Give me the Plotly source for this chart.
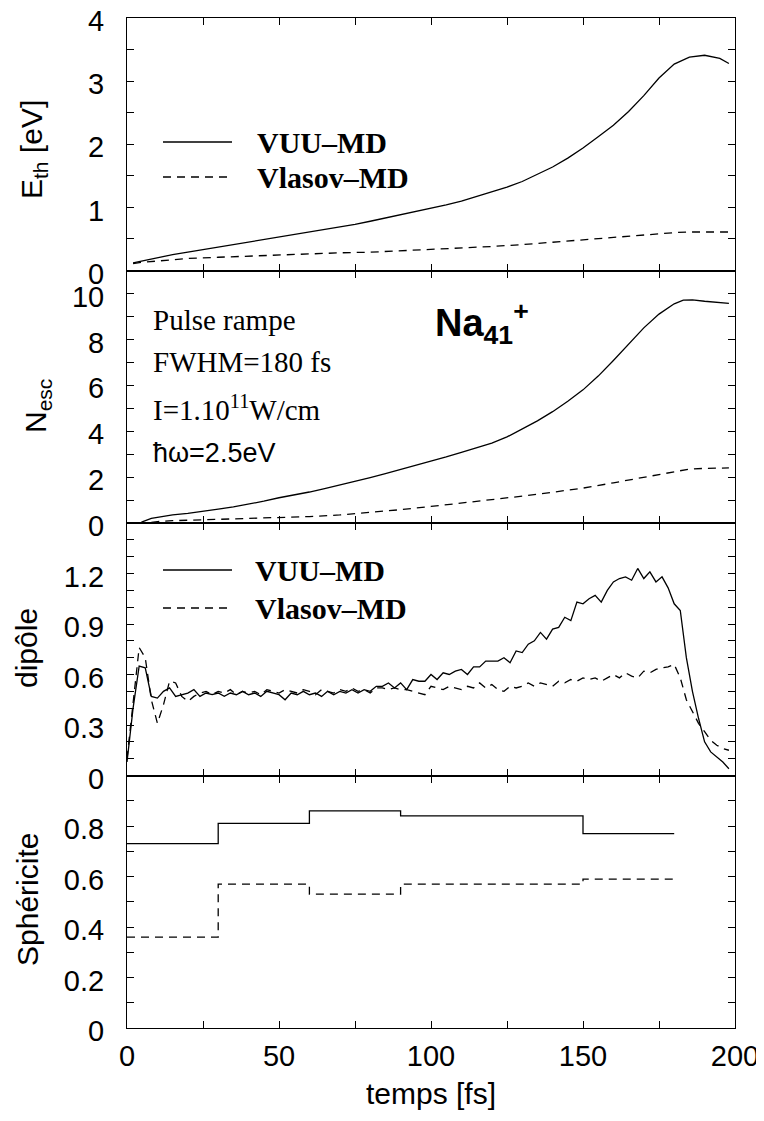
import plotly.graph_objects as go
from plotly.subplots import make_subplots

# ---------------- data ----------------
# Panel 1: thermal energy E_th [eV]
t_eth_vuu = [2, 5, 10, 15, 20, 25, 30, 35, 40, 45, 50, 55, 60, 65, 70, 75, 80, 85, 90, 95,
             100, 105, 110, 115, 120, 125, 130, 135, 140, 145, 150, 155, 160, 165, 170, 175,
             180, 185, 190, 195, 198]
eth_vuu = [0.12, 0.15, 0.21, 0.25, 0.29, 0.33, 0.36, 0.40, 0.44, 0.48, 0.52, 0.56, 0.60, 0.64,
           0.68, 0.73, 0.78, 0.83, 0.88, 0.93, 0.98, 1.04, 1.10, 1.17, 1.24, 1.32, 1.41, 1.52,
           1.64, 1.78, 1.94, 2.12, 2.30, 2.52, 2.77, 3.05, 3.27, 3.38, 3.41, 3.36, 3.28]
t_eth_vla = [2, 5, 10, 20, 30, 40, 50, 60, 70, 80, 90, 100, 110, 120, 130, 140, 150, 160,
             170, 180, 185, 190, 198]
eth_vla = [0.11, 0.13, 0.15, 0.19, 0.21, 0.23, 0.25, 0.27, 0.28, 0.29, 0.31, 0.33, 0.35,
           0.38, 0.41, 0.45, 0.49, 0.53, 0.56, 0.60, 0.61, 0.61, 0.61]

# Panel 2: number of escaped electrons
t_nesc_vuu = [4.4, 5, 8, 10, 15, 20, 25, 30, 35, 40, 45, 50, 55, 60, 65, 70, 75, 80, 85, 90,
              95, 100, 105, 110, 115, 120, 125, 130, 135, 140, 145, 150, 155, 160, 165, 170,
              175, 180, 183, 186, 190, 195, 198]
nesc_vuu = [0.0, 0.05, 0.2, 0.25, 0.35, 0.42, 0.5, 0.6, 0.7, 0.82, 0.95, 1.1, 1.22, 1.35, 1.5,
            1.65, 1.8, 1.98, 2.15, 2.33, 2.5, 2.68, 2.88, 3.08, 3.27, 3.48, 3.75, 4.1, 4.45,
            4.85, 5.3, 5.8, 6.4, 7.08, 7.8, 8.5, 9.1, 9.55, 9.71, 9.72, 9.66, 9.6, 9.57]
t_nesc_vla = [8, 10, 15, 20, 25, 30, 40, 50, 60, 70, 80, 90, 100, 110, 120, 130, 140, 150,
              160, 170, 180, 185, 190, 198]
nesc_vla = [0.03, 0.06, 0.1, 0.12, 0.14, 0.16, 0.19, 0.22, 0.28, 0.35, 0.45, 0.58, 0.72, 0.86,
            1.0, 1.17, 1.34, 1.52, 1.75, 2.0, 2.25, 2.35, 2.38, 2.4]

# Panel 3: dipole, sampled every 2 fs from 0 to 198
t_dip = list(range(0, 200, 2))
dip_vuu = [0.08, 0.40, 0.65, 0.64, 0.47, 0.46, 0.50, 0.52, 0.47, 0.48,
           0.49, 0.51, 0.47, 0.49, 0.48, 0.49, 0.47, 0.49, 0.48, 0.50,
           0.48, 0.49, 0.47, 0.50, 0.49, 0.48, 0.45, 0.49, 0.48, 0.50,
           0.48, 0.49, 0.47, 0.50, 0.48, 0.50, 0.49, 0.51, 0.49, 0.51,
           0.50, 0.53, 0.53, 0.55, 0.52, 0.55, 0.51, 0.57, 0.56, 0.56,
           0.60, 0.57, 0.61, 0.60, 0.62, 0.63, 0.60, 0.645, 0.645, 0.68,
           0.68, 0.68, 0.70, 0.67, 0.74, 0.73, 0.78, 0.80, 0.85, 0.81,
           0.87, 0.88, 0.94, 0.92, 1.03, 1.02, 1.05, 1.07, 1.03, 1.10,
           1.15, 1.17, 1.18, 1.16, 1.23, 1.17, 1.21, 1.15, 1.18, 1.115,
           1.02, 0.98, 0.70, 0.50, 0.34, 0.20, 0.14, 0.11, 0.08, 0.04]
dip_vla = [0.10, 0.45, 0.76, 0.70, 0.45, 0.31, 0.42, 0.56, 0.55, 0.47,
           0.44, 0.47, 0.49, 0.50, 0.48, 0.50, 0.49, 0.51, 0.48, 0.50,
           0.49, 0.50, 0.48, 0.51, 0.50, 0.49, 0.51, 0.50, 0.49, 0.51,
           0.50, 0.48, 0.51, 0.50, 0.49, 0.51, 0.50, 0.52, 0.50, 0.51,
           0.49, 0.52, 0.52, 0.51, 0.52, 0.51, 0.51, 0.50, 0.49, 0.48,
           0.53, 0.52, 0.51, 0.53, 0.52, 0.51, 0.53, 0.52, 0.55, 0.52,
           0.54, 0.51, 0.50, 0.53, 0.52, 0.53, 0.55, 0.53, 0.55, 0.54,
           0.53, 0.56, 0.55, 0.57, 0.56, 0.58, 0.57, 0.58, 0.56, 0.58,
           0.60, 0.58, 0.61, 0.59, 0.58, 0.62, 0.61, 0.63, 0.64, 0.645,
           0.66, 0.58, 0.45, 0.38, 0.31, 0.26, 0.21, 0.18, 0.16, 0.15]

# Panel 4: sphericity (step function)
t_sph = [0, 30, 60, 90, 150, 180]
sph_vuu = [0.73, 0.81, 0.86, 0.84, 0.77, 0.77]
sph_vla = [0.36, 0.57, 0.53, 0.57, 0.59, 0.59]

series_names = ["VUU-MD", "Vlasov-MD"]
x_major = [0, 50, 100, 150, 200]
x_minor = [25, 75, 125, 175]
y_major = [[0, 1, 2, 3, 4], [0, 2, 4, 6, 8, 10], [0, 0.3, 0.6, 0.9, 1.2], [0, 0.2, 0.4, 0.6, 0.8]]
y_major_text = [["0", "1", "2", "3", "4"], ["0", "2", "4", "6", "8", "10"],
                ["0", "0.3", "0.6", "0.9", "1.2"], ["0", "0.2", "0.4", "0.6", "0.8"]]
y_minor = [[0.5, 1.5, 2.5, 3.5],
           [1, 3, 5, 7, 9, 11],
           [0.1, 0.2, 0.4, 0.5, 0.7, 0.8, 1.0, 1.1, 1.3, 1.4, 1.5],
           [0.1, 0.3, 0.5, 0.7, 0.9, 1.0]]
y_ranges = [[0, 4], [0, 11], [0, 1.5], [0, 1.0]]

# ---------------- figure ----------------
# the page body has an 8px default margin; size the figure so the window is filled exactly
OFF = 8
W, H = 764 - OFF, 1121 - OFF
ML, MR, MT, MB = 119, 29, 10, 93
PW, PH = W - ML - MR, H - MT - MB

def px(x):  # screen pixel -> paper
    return (x - OFF - ML) / PW

def py(y):
    return (H - MB - (y - OFF)) / PH

fig = make_subplots(rows=4, cols=1, shared_xaxes=True, vertical_spacing=0)

solid = dict(color="black", width=1.3)
dashed = dict(color="black", width=1.3, dash="8px,6px")

fig.add_trace(go.Scatter(x=t_eth_vuu, y=eth_vuu, mode="lines", line=solid, name=series_names[0]), row=1, col=1)
fig.add_trace(go.Scatter(x=t_eth_vla, y=eth_vla, mode="lines", line=dashed, name=series_names[1]), row=1, col=1)
fig.add_trace(go.Scatter(x=t_nesc_vuu, y=nesc_vuu, mode="lines", line=solid, name=series_names[0]), row=2, col=1)
fig.add_trace(go.Scatter(x=t_nesc_vla, y=nesc_vla, mode="lines", line=dashed, name=series_names[1]), row=2, col=1)
fig.add_trace(go.Scatter(x=t_dip, y=dip_vuu, mode="lines", line=solid, name=series_names[0]), row=3, col=1)
fig.add_trace(go.Scatter(x=t_dip, y=dip_vla, mode="lines", line=dashed, name=series_names[1]), row=3, col=1)
fig.add_trace(go.Scatter(x=t_sph, y=sph_vuu, mode="lines", line=solid, line_shape="hv", name=series_names[0]), row=4, col=1)
fig.add_trace(go.Scatter(x=t_sph, y=sph_vla, mode="lines", line=dashed, line_shape="hv", name=series_names[1]), row=4, col=1)

tickfont = dict(family="Liberation Sans, Arial, sans-serif", size=29, color="black")
axis_common = dict(showline=True, linecolor="black", linewidth=1, mirror="ticks",
                   ticks="inside", ticklen=7, tickwidth=1.1, tickcolor="black",
                   showgrid=False, zeroline=False, tickfont=tickfont, automargin=False,
                   ticklabeloverflow="allow")

for r in range(1, 5):
    fig.update_xaxes(range=[0, 200], tickmode="array", tickvals=x_major,
                     ticktext=[str(v) for v in x_major],
                     minor=dict(tickvals=x_minor, ticks="inside", ticklen=7, tickwidth=1.1,
                                tickcolor="black", showgrid=False),
                     ticklabelstandoff=2, **axis_common, row=r, col=1)

for r in range(1, 5):
    fig.update_yaxes(range=y_ranges[r - 1], tickmode="array", tickvals=y_major[r - 1],
                     ticktext=y_major_text[r - 1],
                     minor=dict(tickvals=y_minor[r - 1], ticks="inside", ticklen=7, tickwidth=1.1,
                                tickcolor="black", showgrid=False),
                     ticklabelstandoff=16, ticklabelshift=3, **axis_common, row=r, col=1)

annotations = []
title_font = dict(family="Liberation Sans, Arial, sans-serif", size=30, color="black")
for text, xc, yc in [("E<sub>th</sub> [eV]", 33, 150), ("N<sub>esc</sub>", 37, 406),
                     ("dipôle", 26, 648), ("Sphéricite", 27, 900)]:
    annotations.append(dict(text=text, x=px(xc), y=py(yc), xref="paper", yref="paper",
                            xanchor="center", yanchor="middle", textangle=-90,
                            showarrow=False, font=title_font))

annotations.append(dict(text="temps [fs]", x=px(431), y=py(1093), xref="paper", yref="paper",
                        xanchor="center", yanchor="middle", showarrow=False, font=title_font))

legend_font = dict(family="Liberation Serif, Times New Roman, serif", size=30, color="black")
shapes = []
for (y_solid, y_dash, x_text) in [(142, 177, 255), (570, 608, 253)]:
    shapes.append(dict(type="line", xref="paper", yref="paper", x0=px(163), x1=px(232),
                       y0=py(y_solid), y1=py(y_solid), line=dict(color="black", width=1.3)))
    shapes.append(dict(type="line", xref="paper", yref="paper", x0=px(163), x1=px(232),
                       y0=py(y_dash), y1=py(y_dash), line=dict(color="black", width=1.3, dash="8px,6px")))
    annotations.append(dict(text="<b>VUU–MD</b>", x=px(x_text), y=py(y_solid), xref="paper", yref="paper",
                            xanchor="left", yanchor="middle", showarrow=False, font=legend_font))
    annotations.append(dict(text="<b>Vlasov–MD</b>", x=px(x_text), y=py(y_dash), xref="paper", yref="paper",
                            xanchor="left", yanchor="middle", showarrow=False, font=legend_font))

serif = dict(family="Liberation Serif, Times New Roman, serif", size=29, color="black")
for text, yc, f in [("Pulse rampe", 320, serif), ("FWHM=180 fs", 362, serif),
                    ("I=1.10<sup>11</sup>W/cm", 408, serif),
                    ("ħω=2.5eV", 453, dict(family="Liberation Sans, Arial", size=27, color="black"))]:
    annotations.append(dict(text=text, x=px(151), y=py(yc), xref="paper", yref="paper",
                            xanchor="left", yanchor="middle", showarrow=False, font=f))

annotations.append(dict(text="<b>Na<sub>41</sub><sup>+</sup></b>", x=px(433), y=py(323), xref="paper", yref="paper",
                        xanchor="left", yanchor="middle", showarrow=False,
                        font=dict(family="Liberation Sans, Arial", size=38, color="black")))

fig.update_layout(width=W, height=H, margin=dict(l=ML, r=MR, t=MT, b=MB, autoexpand=False),
                  plot_bgcolor="white", paper_bgcolor="white", showlegend=False,
                  annotations=annotations, shapes=shapes)

fig.write_html("out.html")
